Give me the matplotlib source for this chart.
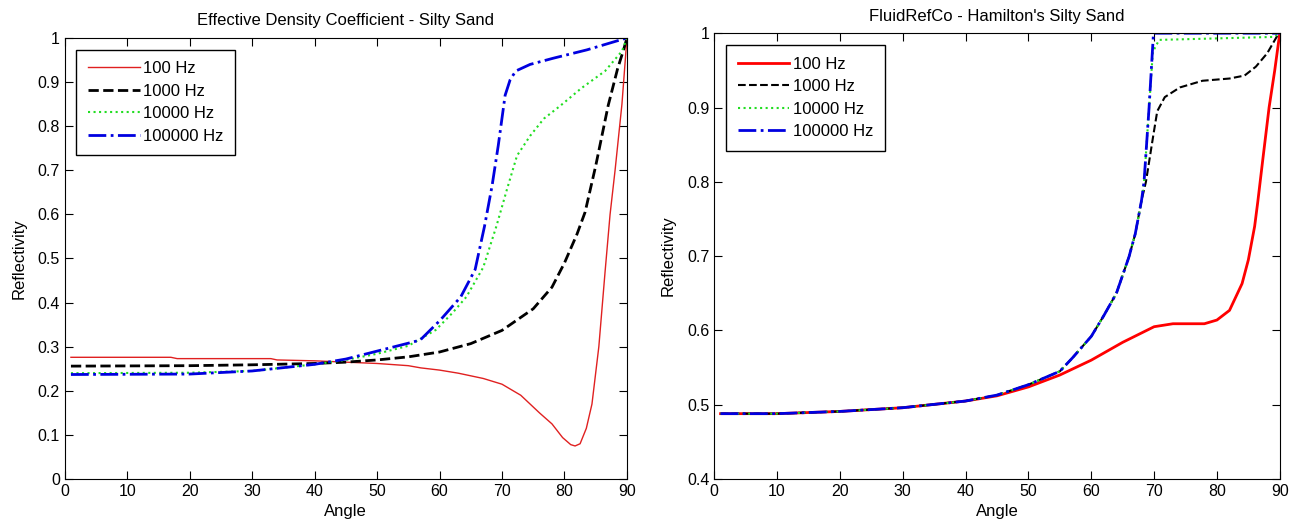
import numpy as np
import matplotlib.pyplot as plt

plt.rcParams['font.family'] = ['Liberation Sans', 'DejaVu Sans']

labels = ['100 Hz', '1000 Hz', '10000 Hz', '100000 Hz']

# left panel: Effective Density Coefficient - Silty Sand
l_x_100 = [1, 17, 18, 33, 34, 40, 45, 50, 55, 57, 60, 63, 67, 70, 73, 76, 78, 79.7, 81, 81.7, 82.5,
           83.5, 84.4, 85.5, 86.5, 87.3, 88.1, 89.2, 90]
l_y_100 = [0.276, 0.276, 0.273, 0.273, 0.270, 0.268, 0.265, 0.262, 0.257, 0.252, 0.247, 0.240, 0.228,
           0.215, 0.190, 0.150, 0.125, 0.094, 0.078, 0.075, 0.080, 0.115, 0.170, 0.300, 0.470, 0.600,
           0.700, 0.850, 1.0]
l_x_1k = [1, 20, 30, 40, 45, 50, 55, 60, 65, 70, 75, 78, 80, 82, 83.3, 85, 87, 88.5, 89.5, 90]
l_y_1k = [0.256, 0.257, 0.259, 0.262, 0.265, 0.270, 0.277, 0.288, 0.307, 0.337, 0.386, 0.435, 0.490,
          0.555, 0.605, 0.710, 0.847, 0.930, 0.975, 1.0]
l_x_10k = [1, 20, 30, 40, 45, 50, 55, 59.4, 62.1, 64.3, 67, 69.1, 70.8, 72.4, 74.5, 76.7, 79.4, 82.7,
           86.5, 89.2, 90]
l_y_10k = [0.240, 0.241, 0.245, 0.260, 0.270, 0.284, 0.302, 0.338, 0.377, 0.413, 0.480, 0.573, 0.657,
           0.733, 0.778, 0.817, 0.847, 0.886, 0.925, 0.970, 1.0]
l_x_100k = [1, 20, 30, 40, 45, 50, 55, 56.9, 60.1, 63.4, 65.7, 67.2, 68.4, 69.4, 70.5, 71.3, 72.2, 74.5,
            78.2, 83.6, 90]
l_y_100k = [0.237, 0.238, 0.245, 0.260, 0.272, 0.290, 0.308, 0.315, 0.360, 0.413, 0.475, 0.573, 0.664,
            0.756, 0.870, 0.905, 0.925, 0.940, 0.954, 0.973, 1.0]

# right panel: FluidRefCo - Hamilton's Silty Sand
r_x_100 = [1, 10, 20, 30, 40, 45, 50, 55, 60, 65, 70, 73, 78, 80, 82, 84, 85, 86, 86.5, 87.3, 88.3, 89.2, 90]
r_y_100 = [0.488, 0.488, 0.491, 0.496, 0.505, 0.512, 0.524, 0.540, 0.560, 0.584, 0.605, 0.609, 0.609,
           0.614, 0.627, 0.663, 0.695, 0.740, 0.773, 0.830, 0.900, 0.950, 1.0]
r_x_1k = [1, 10, 20, 30, 40, 45, 50, 55, 57, 60, 62, 64, 66, 67, 68, 68.7, 69.9, 70.5, 71.7, 74.1,
          77.7, 82, 84.4, 86.2, 88, 89.5, 90]
r_y_1k = [0.488, 0.488, 0.491, 0.496, 0.505, 0.513, 0.527, 0.545, 0.563, 0.592, 0.620, 0.650, 0.699,
          0.730, 0.775, 0.800, 0.864, 0.895, 0.914, 0.927, 0.936, 0.939, 0.943, 0.955, 0.973, 0.995, 1.0]
r_x_10k = [1, 10, 20, 30, 40, 45, 50, 55, 57, 60, 62, 64, 66, 67, 68, 68.4, 69.2, 69.8, 70.8, 80,
           89, 90]
r_y_10k = [0.488, 0.488, 0.491, 0.496, 0.505, 0.513, 0.527, 0.545, 0.563, 0.592, 0.620, 0.650, 0.699,
           0.730, 0.775, 0.800, 0.900, 0.975, 0.991, 0.993, 0.995, 1.0]
r_x_100k = [1, 10, 20, 30, 40, 45, 50, 55, 57, 60, 62, 64, 66, 67, 68, 68.4, 69.2, 69.9, 90]
r_y_100k = [0.488, 0.488, 0.491, 0.496, 0.505, 0.513, 0.527, 0.545, 0.563, 0.592, 0.620, 0.650, 0.699,
            0.730, 0.775, 0.800, 0.900, 1.0, 1.0]

x_ticks = np.arange(0, 91, 10)


def style_axes(ax, title, yticks):
    ax.set_title(title, fontsize=12, pad=9)
    ax.set_xlabel('Angle', fontsize=12, labelpad=4)
    ax.set_ylabel('Reflectivity', fontsize=12, labelpad=8)
    ax.set_xlim(0, 90)
    ax.set_xticks(x_ticks)
    ax.set_yticks(yticks)
    ax.set_yticklabels([f'{v:g}' for v in yticks])
    ax.tick_params(direction='in', top=True, right=True, labelsize=11.5, length=6)
    leg = ax.legend(loc='upper left', fontsize=12, fancybox=False, framealpha=1,
                    edgecolor='black', handlelength=3.1, handletextpad=0.2,
                    borderpad=0.7, labelspacing=0.45, borderaxespad=0.7)
    leg.get_frame().set_linewidth(1.0)


fig = plt.figure(figsize=(12.94, 5.27), dpi=100)

ax1 = fig.add_axes([0.050, 0.091, 0.4345, 0.837])
ax1.plot(l_x_100, l_y_100, color='#e02020', lw=1, ls='-', label=labels[0])
ax1.plot(l_x_1k, l_y_1k, color='black', lw=2, ls='--', label=labels[1])
ax1.plot(l_x_10k, l_y_10k, color='#22dd22', lw=1.5, ls=':', label=labels[2])
ax1.plot(l_x_100k, l_y_100k, color='#0000e0', lw=2, ls='-.', label=labels[3])
ax1.set_ylim(0, 1)
style_axes(ax1, 'Effective Density Coefficient - Silty Sand', np.round(np.arange(0, 1.01, 0.1), 1))

ax2 = fig.add_axes([0.552, 0.091, 0.437, 0.846])
ax2.plot(r_x_100, r_y_100, color='#ff0000', lw=2, ls='-', label=labels[0])
ax2.plot(r_x_1k, r_y_1k, color='black', lw=1.5, ls='--', label=labels[1])
ax2.plot(r_x_10k, r_y_10k, color='#22dd22', lw=1.5, ls=':', label=labels[2])
ax2.plot(r_x_100k, r_y_100k, color='#0000e0', lw=2, ls='-.', label=labels[3])
ax2.set_ylim(0.4, 1)
style_axes(ax2, "FluidRefCo - Hamilton's Silty Sand", np.round(np.arange(0.4, 1.01, 0.1), 1))

fig.savefig('out.png', dpi=100)
